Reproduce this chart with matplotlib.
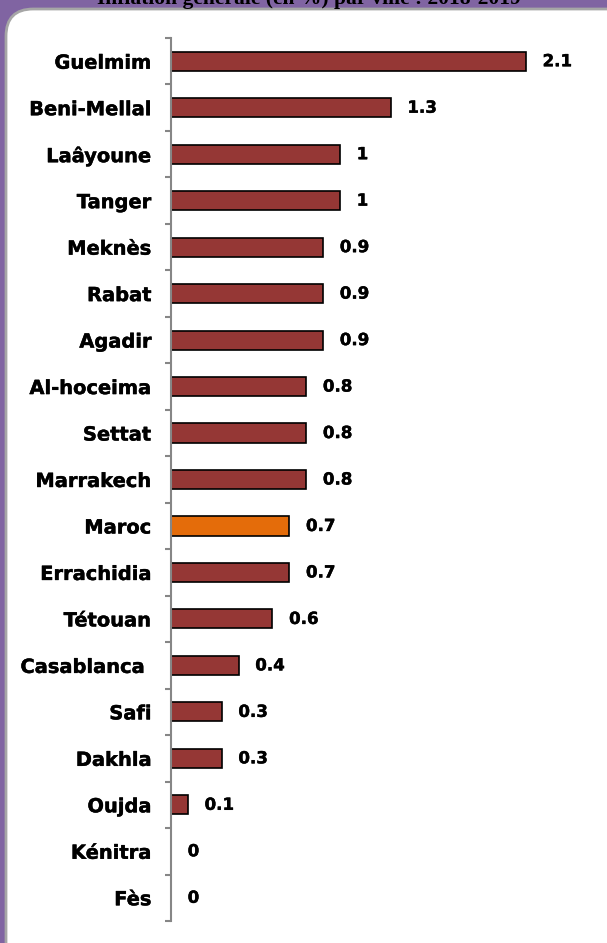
import matplotlib
matplotlib.use("Agg")
import matplotlib.pyplot as plt
import matplotlib.patheffects as pe
from matplotlib.patches import FancyBboxPatch
from matplotlib.ticker import FixedLocator

cities = ["Guelmim", "Beni-Mellal", "Laâyoune", "Tanger", "Meknès", "Rabat",
          "Agadir", "Al-hoceima", "Settat", "Marrakech", "Maroc", "Errachidia",
          "Tétouan", "Casablanca ", "Safi", "Dakhla", "Oujda", "Kénitra", "Fès"]
values = [2.1, 1.3, 1, 1, 0.9, 0.9, 0.9, 0.8, 0.8, 0.8, 0.7, 0.7, 0.6, 0.4,
          0.3, 0.3, 0.1, 0, 0]
value_labels = ["2.1", "1.3", "1", "1", "0.9", "0.9", "0.9", "0.8", "0.8", "0.8",
                "0.7", "0.7", "0.6", "0.4", "0.3", "0.3", "0.1", "0", "0"]
title = "Inflation générale (en %) par ville : 2018-2019"
highlight = "Maroc"

W, H = 607, 943
fig = plt.figure(figsize=(W / 100, H / 100), dpi=100)
fig.patch.set_facecolor("#8064A2")

# white rounded panel
panel = FancyBboxPatch((6 / W, -40 / H), (W + 40) / W, (H - 9 + 40) / H,
                       boxstyle="round,pad=0,rounding_size=0.045",
                       transform=fig.transFigure, facecolor="white",
                       edgecolor="#A6A6A6", linewidth=2, zorder=-10,
                       mutation_aspect=W / H)
fig.patches.append(panel)

fig.text(309 / W, 1 - 4 / H, title, ha="center", va="baseline",
         fontsize=15.5, fontweight="bold", family="Liberation Serif", color="black")

left, right = 171 / W, 0.95
top, bottom = 1 - 38 / H, 1 - 921 / H
ax = fig.add_axes([left, bottom, right - left, top - bottom])
ax.patch.set_alpha(0)

pos = list(range(len(cities)))
colors = ["#E46C0A" if c == highlight else "#953735" for c in cities]
ax.barh(pos, values, height=0.41, color=colors, edgecolor="black", linewidth=1.2)

xmax = (right - left) * W / 169.0
ax.set_xlim(0, xmax)
ax.set_ylim(len(cities) - 0.5, -0.5)

thick = [pe.withStroke(linewidth=0.3, foreground="black")]
for p, v, lab in zip(pos, values, value_labels):
    ax.annotate(lab, (v, p), xytext=(12, 0), textcoords="offset points",
                ha="left", va="center", fontsize=12, fontweight="bold",
                family="DejaVu Sans", path_effects=thick)

ax.set_yticks(pos)
ax.set_yticklabels(cities, fontsize=14, fontweight="bold", family="DejaVu Sans")
for t in ax.get_yticklabels():
    t.set_path_effects(thick)
ax.yaxis.set_minor_locator(FixedLocator([i - 0.5 for i in range(len(cities) + 1)]))
ax.tick_params(axis="y", which="major", length=0, pad=14)
ax.tick_params(axis="y", which="minor", length=4, width=1.5, color="#868686",
               direction="out")
ax.set_xticks([])
for s in ["top", "right", "bottom"]:
    ax.spines[s].set_visible(False)
ax.spines["left"].set_color("#868686")
ax.spines["left"].set_linewidth(1.5)

fig.savefig("out.png", dpi=100, facecolor=fig.get_facecolor())
